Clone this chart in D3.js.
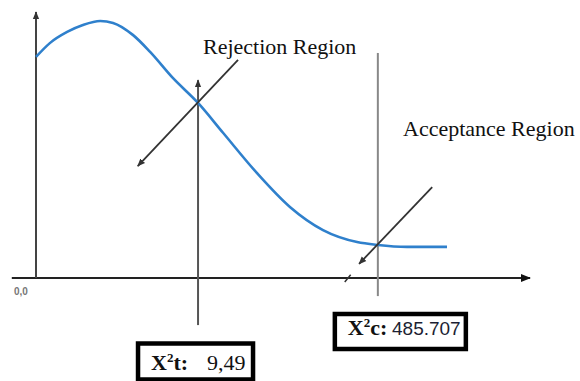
<meta charset="utf-8">
<script src="https://d3js.org/d3.v7.js"></script>
<style>
body{
margin: 0;
background-color: white;
}
svg {
background-color: white;
}
.label {
  font-family: 'Liberation Serif', 'Times New Roman', serif;
  font-size: 22px;
  fill: #111;
}
</style>
<html>
    <body>
        <div id="chart"></div>
        <script>
            // curve (axes units 0..100)
            var curveX = [0, 2.8, 6.3, 9.5, 13, 15.6, 19.6, 23.1, 27.7, 32.8, 37.9, 44.7, 51.4, 58.1, 65, 69.2, 75.1, 83.2];
            var curveY = [83.1, 88.3, 92.5, 95.1, 96.6, 95.9, 91.4, 85, 75.2, 65.8, 54.5, 39.5, 26.7, 18, 13.5, 12.4, 11.7, 11.7];

            // critical lines: table value and computed value
            var critX = [32.8, 69.2];
            var critTop = [74.4, 84.6];
            var critBottom = [-17.7, -6.8];

            // region pointer arrows [x1, y1, x2, y2]
            var pointers = [[40.9, 82.0, 20.6, 42.1], [80.2, 34.2, 65.4, 5.3]];
            var regionLabels = ["Rejection Region", "Acceptance Region"];
            var regionLabelX = [33.8, 74.3];
            var regionLabelY = [84.2, 53.4];

            var originLabel = "0,0";
            var chiNames = ["t:", "c:"];
            var chiValues = ["9,49", "485.707"];

            var width = 580, height = 381;

            var svg = d3.select("#chart")
                .append("svg")
                    .attr("width", width)
                    .attr("height", height);

            var x = d3.scaleLinear().domain([0, 100]).range([36, 530]);
            var y = d3.scaleLinear().domain([0, 100]).range([278, 12]);

            // arrow heads
            var defs = svg.append("defs");
            function addMarker(id, color, size) {
                defs.append("marker")
                    .attr("id", id)
                    .attr("markerUnits", "userSpaceOnUse")
                    .attr("viewBox", "0 0 10 10")
                    .attr("refX", 9)
                    .attr("refY", 5)
                    .attr("markerWidth", size)
                    .attr("markerHeight", size)
                    .attr("orient", "auto")
                  .append("path")
                    .attr("d", "M0,1L10,5L0,9Z")
                    .attr("fill", color);
            }
            addMarker("headBig", "#111", 10);
            addMarker("headSmall", "#333", 8);

            // x axis
            svg.append("line")
                .attr("x1", x(-4.9)).attr("x2", x(100))
                .attr("y1", y(0)).attr("y2", y(0))
                .attr("stroke", "#222")
                .attr("stroke-width", 2)
                .attr("marker-end", "url(#headBig)");

            // y axis
            svg.append("line")
                .attr("x1", x(0)).attr("x2", x(0))
                .attr("y1", y(0)).attr("y2", y(100))
                .attr("stroke", "#444")
                .attr("stroke-width", 2)
                .attr("marker-end", "url(#headSmall)");

            // small break mark on the x axis
            svg.append("line")
                .attr("x1", x(62.5)).attr("x2", x(63.7))
                .attr("y1", y(-1.5)).attr("y2", y(1.2))
                .attr("stroke", "#333")
                .attr("stroke-width", 1.5);

            svg.append("text")
                .attr("x", 14)
                .attr("y", y(0) + 17)
                .style("font-family", "Arial, 'Liberation Sans', sans-serif")
                .style("font-size", "10px")
                .style("font-weight", "bold")
                .style("fill", "#777")
                .text(originLabel);

            // critical value lines
            svg.selectAll(".crit")
                .data(critX)
                .enter()
                .append("line")
                .attr("class", "crit")
                .attr("x1", d => x(d)).attr("x2", d => x(d))
                .attr("y1", (d, i) => y(critBottom[i]))
                .attr("y2", (d, i) => y(critTop[i]))
                .attr("stroke", (d, i) => i == 0 ? "#555" : "#888")
                .attr("stroke-width", 2)
                .attr("marker-end", (d, i) => i == 0 ? "url(#headSmall)" : null);

            // distribution curve
            var line = d3.line()
                .x((d, i) => x(curveX[i]))
                .y(d => y(d))
                .curve(d3.curveMonotoneX);

            svg.append("path")
                .datum(curveY)
                .attr("d", line)
                .attr("fill", "none")
                .attr("stroke", "#2f80cc")
                .attr("stroke-width", 2.6);

            // pointer arrows
            svg.selectAll(".pointer")
                .data(pointers)
                .enter()
                .append("line")
                .attr("class", "pointer")
                .attr("x1", d => x(d[0])).attr("y1", d => y(d[1]))
                .attr("x2", d => x(d[2])).attr("y2", d => y(d[3]))
                .attr("stroke", "#333")
                .attr("stroke-width", 1.8)
                .attr("marker-end", "url(#headSmall)");

            svg.selectAll(".region")
                .data(regionLabels)
                .enter()
                .append("text")
                .attr("class", "label")
                .attr("x", (d, i) => x(regionLabelX[i]))
                .attr("y", (d, i) => y(regionLabelY[i]))
                .text(d => d);

            // value boxes under the critical lines
            var boxes = [
                {left: x(critX[0]) - 60, top: 343.5, w: 115, h: 36, base: 370, valueX: 207, sans: false},
                {left: x(critX[1]) - 43, top: 314, w: 131, h: 35, base: 335, valueX: 392, sans: true}
            ];

            boxes.forEach(function(b, i) {
                svg.append("rect")
                    .attr("x", b.left)
                    .attr("y", b.top)
                    .attr("width", b.w)
                    .attr("height", b.h)
                    .attr("fill", "white")
                    .attr("stroke", "black")
                    .attr("stroke-width", 4.5);

                var t = svg.append("text")
                    .attr("class", "label")
                    .attr("x", b.left + 13)
                    .attr("y", b.base)
                    .style("font-weight", "bold");
                t.append("tspan").text("X");
                t.append("tspan")
                    .attr("dy", -8)
                    .style("font-size", "13px")
                    .text("2");
                t.append("tspan")
                    .attr("dy", 8)
                    .text(chiNames[i]);

                svg.append("text")
                    .attr("class", "label")
                    .attr("x", b.valueX)
                    .attr("y", b.base)
                    .style("font-family", b.sans ? "Arial, 'Liberation Sans', sans-serif" : null)
                    .style("font-size", b.sans ? "19px" : null)
                    .style("fill", b.sans ? "#1c1f33" : null)
                    .text(chiValues[i]);
            });
        </script>
    </body>
</html>
